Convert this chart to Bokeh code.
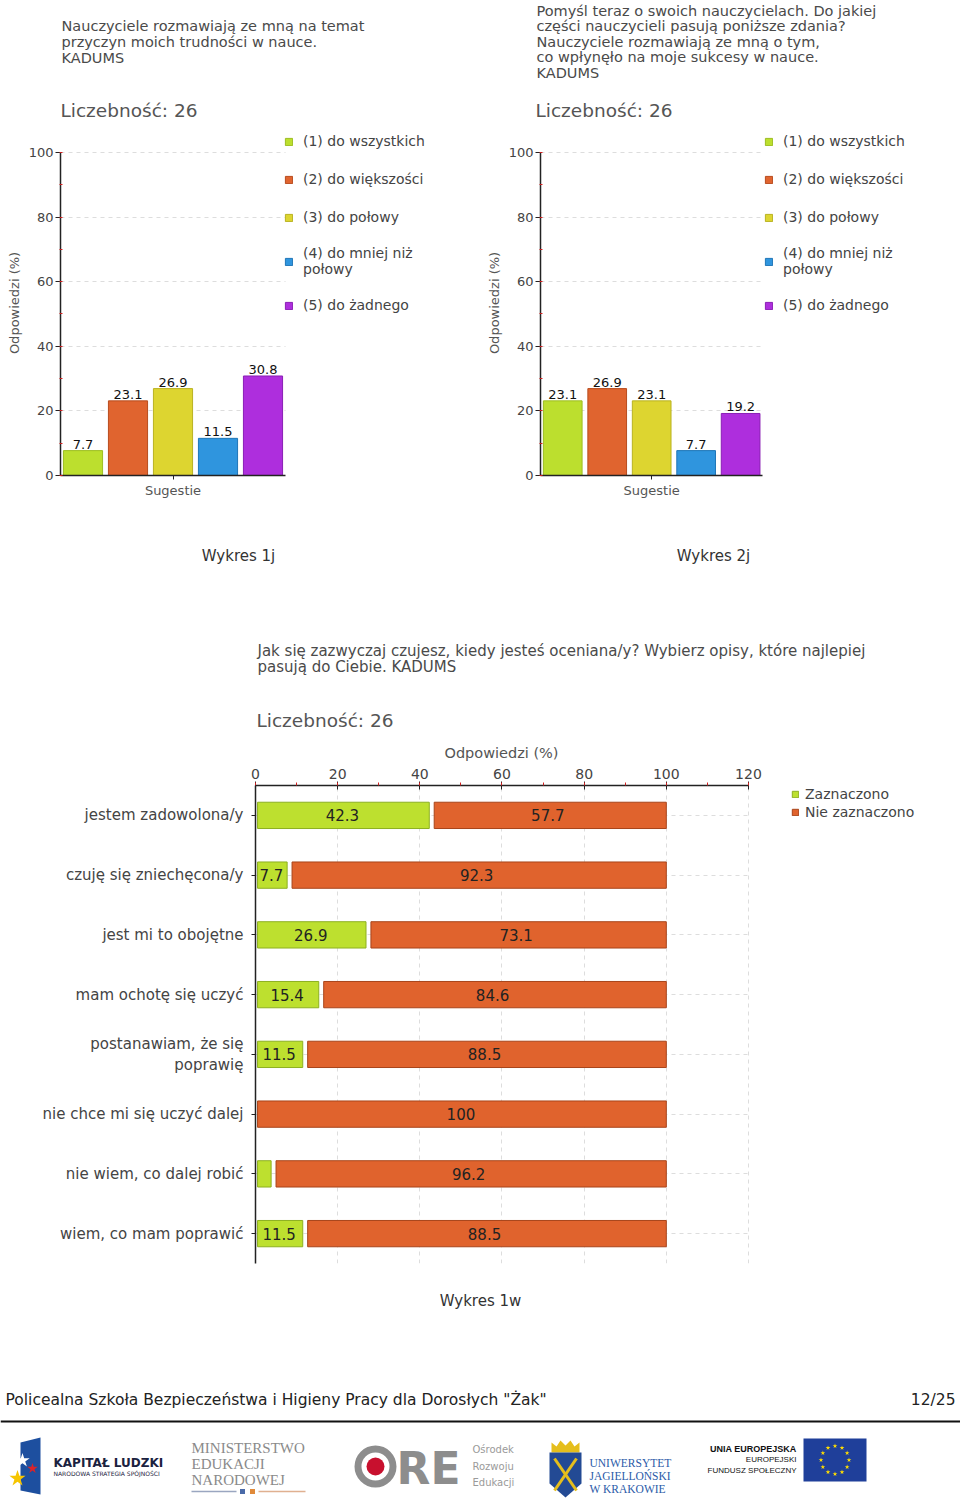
import numpy as np
from bokeh.plotting import figure
from bokeh.models import (ColumnDataSource, Range1d, FactorRange, Label, Legend, LegendItem,
                          SingleIntervalTicker, FixedTicker)
from bokeh.layouts import row
from bokeh.embed import file_html
from bokeh.resources import INLINE
from bokeh.core.properties import value

FONT = "DejaVu Sans"

# ---------------- data ----------------
sample_size = 26
answer_labels = ["(1) do wszystkich", "(2) do większości", "(3) do połowy",
                 "(4) do mniej niż\npołowy", "(5) do żadnego"]
answer_colors = ["#BCDF2E", "#E0642F", "#DDD530", "#2F95DE", "#AE2EDD"]
answer_outline = ["#9DBE22", "#B84C1E", "#B9B222", "#1F76B8", "#8A1FB5"]

chart1_title = ["Nauczyciele rozmawiają ze mną na temat",
                "przyczyn moich trudności w nauce.",
                "KADUMS"]
chart1_values = [7.7, 23.1, 26.9, 11.5, 30.8]
chart1_caption = "Wykres 1j"

chart2_title = ["Pomyśl teraz o swoich nauczycielach. Do jakiej",
                "części nauczycieli pasują poniższe zdania?",
                "Nauczyciele  rozmawiają ze mną  o tym,",
                "co wpłynęło na moje sukcesy w nauce.",
                "KADUMS"]
chart2_values = [23.1, 26.9, 23.1, 7.7, 19.2]
chart2_caption = "Wykres 2j"

category_name = "Sugestie"
axis_name = "Odpowiedzi (%)"

chart3_title = ["Jak się zazwyczaj czujesz, kiedy jesteś oceniana/y? Wybierz opisy, które najlepiej",
                "pasują do Ciebie. KADUMS"]
feelings = ["jestem zadowolona/y", "czuję się zniechęcona/y", "jest mi to obojętne",
            "mam ochotę się uczyć", "postanawiam, że się\npoprawię",
            "nie chce mi się uczyć dalej", "nie wiem, co dalej robić", "wiem, co mam poprawić"]
marked = [42.3, 7.7, 26.9, 15.4, 11.5, 0.0, 3.8, 11.5]
not_marked = [57.7, 92.3, 73.1, 84.6, 88.5, 100.0, 96.2, 88.5]
series_names = ["Zaznaczono", "Nie zaznaczono"]
series_colors = ["#BDE02F", "#E0632D"]
series_outline = ["#8DB020", "#A8441A"]
chart3_caption = "Wykres 1w"

footer_text = 'Policealna Szkoła Bezpieczeństwa i Higieny Pracy dla Dorosłych "Żak"'
page_text = "12/25"

TEXT = "#4a4a4a"
W = 960


def lbl(p, x, y, text, size, color=TEXT, align="left", font=FONT, style="normal"):
    p.add_layout(Label(x=x, y=y, text=text, text_font=font, text_font_size=size,
                       text_color=color, text_align=align, text_baseline="middle",
                       text_font_style=style))


def text_fig(height):
    f = figure(width=W, height=height, x_range=Range1d(0, W), y_range=Range1d(height, 0),
               output_backend="svg", toolbar_location=None, min_border=0,
               x_axis_type=None, y_axis_type=None)
    f.outline_line_color = None
    return f


def limit_grid(grid, lo, hi):
    try:
        grid.cross_bounds = (lo, hi)
    except AttributeError:
        pass


# ---------------- top titles ----------------
t1 = text_fig(130)
for i, t in enumerate(chart1_title):
    lbl(t1, 61, 25 + 16 * i, t, "14.5px")
lbl(t1, 60, 110, f"Liczebność: {sample_size}", "18.5px", color="#555555")
for i, t in enumerate(chart2_title):
    lbl(t1, 536, 10 + 15.5 * i, t, "14.5px")
lbl(t1, 535, 110, f"Liczebność: {sample_size}", "18.5px", color="#555555")

# ---------------- top charts ----------------
PX_X = 45.0     # px per bar slot
PX_Y = 3.24     # px per percent


def top_chart(values, width, left):
    frame_w = width - left
    p = figure(width=width, height=370, x_range=Range1d(0, frame_w / PX_X),
               y_range=Range1d(0, 346 / PX_Y),
               output_backend="svg", toolbar_location=None, min_border=0,
               min_border_left=left, min_border_bottom=24)
    p.outline_line_color = None
    src = ColumnDataSource(dict(x=np.arange(len(values)) + 0.5, top=values,
                                color=answer_colors, line=answer_outline,
                                label=[f"{v:.1f}" for v in values]))
    r = p.vbar(x="x", top="top", bottom=0, width=0.87, source=src,
               fill_color="color", line_color="line", line_width=1)
    p.text(x="x", y="top", text="label", source=src, text_align="center",
           text_baseline="bottom", y_offset=-2, text_font=value(FONT),
           text_font_size="13px", text_color="#111111")

    p.xgrid.visible = False
    p.ygrid.grid_line_color = "#dddddd"
    p.ygrid.grid_line_dash = "4 4"
    p.ygrid.ticker = SingleIntervalTicker(interval=20)
    p.ygrid.bounds = (0, 100)
    limit_grid(p.ygrid[0], 0, len(values))

    yax = p.yaxis[0]
    yax.bounds = (0, 100)
    yax.ticker = SingleIntervalTicker(interval=20, num_minor_ticks=2)
    yax.axis_label = axis_name
    yax.axis_label_text_font = FONT
    yax.axis_label_text_font_size = "13px"
    yax.axis_label_text_font_style = "normal"
    yax.axis_label_text_color = "#555555"
    yax.axis_label_standoff = 4
    yax.major_label_text_font = FONT
    yax.major_label_text_font_size = "13px"
    yax.major_label_text_color = "#444444"
    yax.major_label_standoff = 2
    yax.axis_line_color = "#222222"
    yax.axis_line_width = 1.5
    yax.major_tick_line_color = "#222222"
    yax.major_tick_out = 5
    yax.major_tick_in = 0
    yax.minor_tick_line_color = "#d02020"
    yax.minor_tick_out = 1
    yax.minor_tick_in = 2

    xax = p.xaxis[0]
    xax.bounds = (0, len(values))
    xax.ticker = FixedTicker(ticks=[len(values) / 2])
    xax.major_label_overrides = {len(values) / 2: category_name}
    xax.major_label_text_font = FONT
    xax.major_label_text_font_size = "13px"
    xax.major_label_text_color = "#555555"
    xax.major_label_standoff = 3
    xax.axis_line_color = "#222222"
    xax.axis_line_width = 1.5
    xax.major_tick_line_color = "#222222"
    xax.major_tick_out = 4
    xax.major_tick_in = 0
    xax.minor_tick_line_color = None

    items = [LegendItem(label=answer_labels[i], renderers=[r], index=i)
             for i in range(len(values))]
    legend = Legend(items=items, location=(224, 160), padding=0, margin=0,
                    border_line_color=None, background_fill_alpha=0,
                    glyph_width=9, glyph_height=9, label_standoff=10,
                    label_height=20, spacing=18,
                    label_text_font=FONT, label_text_font_size="14px",
                    label_text_color="#444444")
    p.add_layout(legend, "center")
    return p


p1 = top_chart(chart1_values, 483, 60)
p2 = top_chart(chart2_values, 477, 52)

# ---------------- middle texts ----------------
t2 = text_fig(261)
lbl(t2, 238, 55, chart1_caption, "15px", color="#333333", align="center")
lbl(t2, 713, 55, chart2_caption, "15px", color="#333333", align="center")
for i, t in enumerate(chart3_title):
    lbl(t2, 257, 150 + 16 * i, t, "15px")
lbl(t2, 256, 220, f"Liczebność: {sample_size}", "18.5px", color="#555555")
lbl(t2, 501, 252, axis_name, "14.5px", color="#555555", align="center")

# ---------------- bottom chart ----------------
PX_B = 4.108
LEFT_B = 255
p3 = figure(width=W, height=509, x_range=Range1d(0, (W - LEFT_B) / PX_B),
            y_range=FactorRange(factors=feelings[::-1], range_padding=0),
            x_axis_location="above", output_backend="svg", toolbar_location=None,
            min_border=0, min_border_left=LEFT_B, min_border_top=24, min_border_bottom=7)
p3.outline_line_color = None

gap_start = 0.5
gap_mid = 1.2
g_mask = [m > 0 for m in marked]
g_src = ColumnDataSource(dict(
    y=[f for f, k in zip(feelings, g_mask) if k],
    left=[gap_start for k in g_mask if k],
    right=[m for m, k in zip(marked, g_mask) if k]))
o_left = [m + gap_mid if m > 0 else gap_start for m in marked]
o_src = ColumnDataSource(dict(y=feelings, left=o_left,
                              right=[m + n for m, n in zip(marked, not_marked)]))
rg = p3.hbar(y="y", left="left", right="right", height=0.44, source=g_src,
             fill_color=series_colors[0], line_color=series_outline[0], line_width=1)
ro = p3.hbar(y="y", left="left", right="right", height=0.44, source=o_src,
             fill_color=series_colors[1], line_color=series_outline[1], line_width=1)

lab_x, lab_y, lab_t = [], [], []
for f, m, n in zip(feelings, marked, not_marked):
    if m >= 5:
        lab_x.append(m / 2); lab_y.append(f); lab_t.append(f"{m:g}")
    if n >= 5:
        lab_x.append(m + n / 2); lab_y.append(f); lab_t.append(f"{n:g}")
p3.text(x=lab_x, y=lab_y, text=lab_t, text_align="center", text_baseline="middle",
        text_font=value(FONT), text_font_size="15px", text_color="#222222")

p3.xgrid.grid_line_color = "#dddddd"
p3.xgrid.grid_line_dash = "4 4"
p3.xgrid.ticker = SingleIntervalTicker(interval=20)
p3.xgrid.bounds = (0, 120)
p3.ygrid.grid_line_color = "#dddddd"
p3.ygrid.grid_line_dash = "4 4"
limit_grid(p3.ygrid[0], 0, 120)

xa = p3.xaxis[0]
xa.bounds = (0, 120)
xa.ticker = SingleIntervalTicker(interval=20, num_minor_ticks=2)
xa.major_label_text_font = FONT
xa.major_label_text_font_size = "14px"
xa.major_label_text_color = "#444444"
xa.major_label_standoff = 3
xa.axis_line_color = "#222222"
xa.axis_line_width = 1.5
xa.major_tick_line_color = "#222222"
xa.major_tick_in = 4
xa.major_tick_out = 4
xa.minor_tick_line_color = "#d02020"
xa.minor_tick_in = 0
xa.minor_tick_out = 3

ya = p3.yaxis[0]
ya.major_label_text_font = FONT
ya.major_label_text_font_size = "15px"
ya.major_label_text_color = "#444444"
ya.major_label_standoff = 8
ya.axis_line_color = "#222222"
ya.axis_line_width = 1.5
ya.major_tick_line_color = "#222222"
ya.major_tick_out = 4
ya.major_tick_in = 0

leg3 = Legend(items=[LegendItem(label=series_names[0], renderers=[rg]),
                     LegendItem(label=series_names[1], renderers=[ro])],
              location=(536, 442), padding=0, margin=0, border_line_color=None,
              background_fill_alpha=0, glyph_width=8, glyph_height=8, label_standoff=6,
              label_height=18, spacing=0, label_text_font=FONT, label_text_font_size="14px",
              label_text_color="#444444")
p3.add_layout(leg3, "center")

# ---------------- bottom texts / footer ----------------
t3 = text_fig(240)
lbl(t3, 480, 30, chart3_caption, "15px", color="#333333", align="center")
lbl(t3, 5, 129, footer_text, "15.5px", color="#222222")
lbl(t3, 955, 129, page_text, "15.5px", color="#222222", align="right")
t3.segment(x0=0, y0=151, x1=W, y1=151, line_color="#111111", line_width=2)

# Kapitał Ludzki
t3.patch(x=[20, 40, 40, 20], y=[172, 167, 224, 220], fill_color="#1d4f9f", line_color=None)
t3.scatter(x=[22, 32, 17], y=[190, 198, 208], marker="star", size=[15, 11, 17],
           fill_color=["#ffffff", "#d8232a", "#f6c500"], line_color=None)
lbl(t3, 53, 192, "KAPITAŁ LUDZKI", "12px", color="#1b2240", style="bold")
lbl(t3, 53, 203, "NARODOWA STRATEGIA SPÓJNOŚCI", "6px", color="#1b2240")

# Ministerstwo Edukacji Narodowej
for i, t in enumerate(["MINISTERSTWO", "EDUKACJI", "NARODOWEJ"]):
    lbl(t3, 191, 177 + 16 * i, t, "15px", color="#8a8a8a", font="Liberation Serif")
t3.segment(x0=[191, 258], y0=[221, 221], x1=[236, 305], y1=[221, 221],
           line_color=["#9aa6c0", "#e0b090"], line_width=1.5)
t3.scatter(x=[242, 252], y=[221, 221], marker="square", size=5,
           fill_color=["#4a6aa8", "#e08a3a"], line_color=None)

# ORE
t3.annulus(x=375, y=196, inner_radius=14, outer_radius=21, fill_color="#8d8d8d", line_color=None)
t3.circle(x=375, y=196, radius=9, fill_color="#c8102e", line_color=None)
lbl(t3, 396, 198, "RE", "44px", color="#8d8d8d", style="bold")
for i, t in enumerate(["Ośrodek", "Rozwoju", "Edukacji"]):
    lbl(t3, 472, 179 + 16.5 * i, t, "10px", color="#9a9a9a")

# Uniwersytet Jagielloński
t3.patch(x=[551, 551, 556, 560, 565, 570, 574, 579, 579],
         y=[182, 172, 176, 170, 175, 170, 176, 172, 182], fill_color="#e5be1c", line_color=None)
t3.patch(x=[549, 581, 581, 565, 549], y=[182, 182, 213, 227, 213],
         fill_color="#234a94", line_color=None)
t3.segment(x0=[554, 576], y0=[188, 188], x1=[576, 554], y1=[220, 220],
           line_color="#e5be1c", line_width=3)
for i, t in enumerate(["UNIWERSYTET", "JAGIELLOŃSKI", "W KRAKOWIE"]):
    lbl(t3, 589, 192 + 13 * i, t, "11.5px", color="#2a5aa8", font="Liberation Serif")

# Unia Europejska
lbl(t3, 796, 178, "UNIA EUROPEJSKA", "9px", color="#111111", font="Liberation Sans",
    style="bold", align="right")
lbl(t3, 796, 189, "EUROPEJSKI", "8px", color="#111111", font="Liberation Sans", align="right")
lbl(t3, 796, 200, "FUNDUSZ SPOŁECZNY", "8px", color="#111111", font="Liberation Sans",
    align="right")
t3.quad(left=803, right=866, top=168, bottom=211, fill_color="#1f3f9a", line_color=None)
ang = np.linspace(0, 2 * np.pi, 13)[:-1]
t3.scatter(x=834.5 + 14 * np.cos(ang), y=189.5 + 14 * np.sin(ang), marker="star", size=5,
           fill_color="#ffdd00", line_color=None)

open("out.html", "w").write(file_html([t1, row(p1, p2), t2, p3, t3], INLINE))
